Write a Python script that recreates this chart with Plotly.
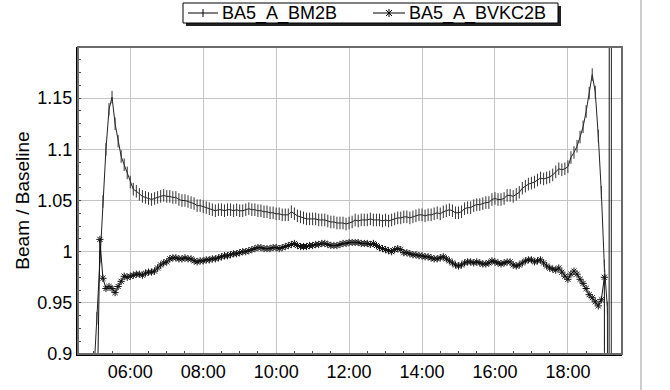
import plotly.graph_objects as go
import pandas as pd

start_time = "2023-01-01 05:00"
step = "5min"

bm2b = [
    0.88, 0.935, 0.995, 1.049, 1.100, 1.139, 1.151, 1.125, 1.108, 1.093,
    1.085, 1.077, 1.068, 1.061, 1.059, 1.056, 1.054, 1.053, 1.052, 1.051,
    1.052, 1.053, 1.054, 1.055, 1.054, 1.054, 1.053, 1.053, 1.051, 1.050,
    1.050, 1.049, 1.048, 1.047, 1.045, 1.045, 1.044, 1.043, 1.042, 1.041,
    1.040, 1.041, 1.041, 1.040, 1.041, 1.041, 1.040, 1.041, 1.040, 1.040,
    1.041, 1.042, 1.041, 1.041, 1.040, 1.040, 1.039, 1.039, 1.038, 1.038,
    1.037, 1.037, 1.036, 1.036, 1.036, 1.039, 1.037, 1.035, 1.034, 1.033,
    1.032, 1.032, 1.032, 1.032, 1.031, 1.031, 1.031, 1.030, 1.029, 1.029,
    1.028, 1.028, 1.028, 1.027, 1.028, 1.029, 1.031, 1.030, 1.031, 1.031,
    1.031, 1.032, 1.031, 1.031, 1.031, 1.030, 1.031, 1.030, 1.031, 1.032,
    1.033, 1.033, 1.034, 1.034, 1.033, 1.034, 1.035, 1.036, 1.036, 1.035,
    1.036, 1.036, 1.037, 1.038, 1.037, 1.039, 1.040, 1.041, 1.040, 1.038,
    1.038, 1.039, 1.042, 1.043, 1.043, 1.045, 1.046, 1.046, 1.047, 1.048,
    1.048, 1.051, 1.052, 1.051, 1.051, 1.052, 1.055, 1.055, 1.054, 1.056,
    1.058, 1.062, 1.064, 1.066, 1.067, 1.068, 1.070, 1.072, 1.071, 1.072,
    1.073, 1.075, 1.078, 1.081, 1.080, 1.081, 1.083, 1.092, 1.097, 1.103,
    1.112, 1.122, 1.137, 1.155, 1.173, 1.156, 1.113, 1.058, 0.986, 0.945,
    -1.0, 6.0,
]

bvkc2b = [
    None, 0.83, 1.012, 0.974, 0.964, 0.966, 0.964, 0.960, 0.966, 0.971,
    0.976, 0.975, 0.976, 0.977, 0.978, 0.978, 0.977, 0.979, 0.980, 0.980,
    0.981, 0.984, 0.987, 0.989, 0.990, 0.993, 0.994, 0.994, 0.993, 0.993,
    0.994, 0.993, 0.993, 0.991, 0.990, 0.991, 0.991, 0.992, 0.992, 0.993,
    0.993, 0.994, 0.995, 0.996, 0.996, 0.997, 0.998, 0.998, 0.999, 1.000,
    1.000, 1.001, 1.002, 1.003, 1.004, 1.004, 1.003, 1.003, 1.003, 1.004,
    1.004, 1.003, 1.004, 1.005, 1.006, 1.007, 1.008, 1.006, 1.005, 1.005,
    1.005, 1.006, 1.006, 1.007, 1.007, 1.008, 1.008, 1.007, 1.006, 1.006,
    1.006, 1.007, 1.008, 1.008, 1.009, 1.009, 1.009, 1.009, 1.008, 1.008,
    1.008, 1.007, 1.008, 1.006, 1.004, 1.003, 1.002, 1.001, 1.000, 1.002,
    1.003, 1.002, 0.999, 0.999, 0.998, 0.997, 0.997, 0.996, 0.996, 0.995,
    0.995, 0.994, 0.993, 0.993, 0.994, 0.995, 0.993, 0.991, 0.989, 0.987,
    0.986, 0.987, 0.989, 0.990, 0.990, 0.989, 0.990, 0.989, 0.988, 0.988,
    0.989, 0.991, 0.990, 0.989, 0.988, 0.989, 0.990, 0.990, 0.987, 0.986,
    0.987, 0.989, 0.991, 0.992, 0.992, 0.990, 0.991, 0.992, 0.989, 0.986,
    0.984, 0.983, 0.982, 0.984, 0.980, 0.976, 0.973, 0.978, 0.981, 0.978,
    0.973, 0.969, 0.964, 0.958, 0.955, 0.951, 0.947, 0.953, 0.975, -3.0,
    4.0,
]

series_names = ["BA5_A_BM2B", "BA5_A_BVKC2B"]
ytick_vals = [0.9, 0.95, 1.0, 1.05, 1.1, 1.15]
ytick_text = ["0.9", "0.95", "1", "1.05", "1.1", "1.15"]

t_bm = pd.date_range(start_time, periods=len(bm2b), freq=step)
t_bv = pd.date_range(start_time, periods=len(bvkc2b), freq=step)

FONT = "Liberation Sans, Arial, sans-serif"

# plot area in page pixels
PL, PR, PT, PB = 78.0, 622.0, 47.0, 354.0


def px(X):
    return (X - PL) / (PR - PL)


def py(Y):
    return (PB - Y) / (PB - PT)


fig = go.Figure()
fig.add_trace(go.Scatter(
    x=t_bm, y=bm2b, name=series_names[0], mode="lines+markers",
    line=dict(color="#222222", width=1),
    marker=dict(symbol="line-ns", size=9, line=dict(color="#333333", width=1)),
))
fig.add_trace(go.Scatter(
    x=t_bv, y=bvkc2b, name=series_names[1], mode="lines+markers",
    line=dict(color="#111111", width=1),
    marker=dict(symbol="asterisk-open", size=6, line=dict(color="#111111", width=1)),
))


def seg(x0, y0, x1, y1, color="black", w=1):
    return dict(type="line", xref="paper", yref="paper",
                x0=px(x0), y0=py(y0), x1=px(x1), y1=py(y1),
                line=dict(color=color, width=w), layer="above")


shapes = [
    dict(type="rect", xref="paper", yref="paper", x0=0, x1=1, y0=0, y1=1,
         line=dict(color="#6a6a6a", width=2), layer="above"),
    seg(641, 0, 641, 390, color="#9a9a9a"),
    # legend shadow + box
    dict(type="rect", xref="paper", yref="paper", x0=px(186), x1=px(561), y0=py(26), y1=py(6),
         fillcolor="#222222", line=dict(width=0), layer="above"),
    dict(type="rect", xref="paper", yref="paper", x0=px(183), x1=px(558), y0=py(23), y1=py(3),
         fillcolor="white", line=dict(color="black", width=1), layer="above"),
    # legend item 1: line with +
    seg(188, 13, 218, 13),
    seg(203, 9, 203, 17),
    # legend item 2: line with *
    seg(373, 13, 405, 13),
    seg(389, 9, 389, 17),
    seg(386, 10, 392, 16),
    seg(386, 16, 392, 10),
]

annotations = [
    dict(text=series_names[0], xref="paper", yref="paper", x=px(220), y=py(13.5),
         xanchor="left", yanchor="middle", showarrow=False,
         font=dict(family=FONT, size=18, color="black")),
    dict(text=series_names[1], xref="paper", yref="paper", x=px(407), y=py(13.5),
         xanchor="left", yanchor="middle", showarrow=False,
         font=dict(family=FONT, size=18, color="black")),
]

fig.update_layout(
    width=670, height=390,
    margin=dict(l=78, r=48, t=47, b=36, autoexpand=False),
    paper_bgcolor="white", plot_bgcolor="white",
    font=dict(family=FONT, size=17, color="black"),
    showlegend=False,
    hovermode=False,
    xaxis=dict(
        type="date",
        range=["2023-01-01 04:34", "2023-01-01 19:29"],
        tick0="2023-01-01 06:00", dtick=7200000, tickformat="%H:%M",
        showgrid=True, gridcolor="#c4c4c4", gridwidth=1,
        ticks="", showline=True, linecolor="black", linewidth=2,
        tickfont=dict(size=18), zeroline=False, automargin=False,
        minor=dict(dtick=1800000, ticks="inside", ticklen=3, tickcolor="#444", showgrid=False),
    ),
    yaxis=dict(
        range=[0.9, 1.2],
        tickvals=ytick_vals, ticktext=ytick_text,
        showgrid=True, gridcolor="#c4c4c4", gridwidth=1,
        ticks="", showline=True, linecolor="black", linewidth=2,
        tickfont=dict(size=18), zeroline=False, automargin=False,
        title=dict(text="Beam / Baseline", font=dict(size=19), standoff=3),
        minor=dict(dtick=0.0125, tick0=0.9, ticks="inside", ticklen=3, tickcolor="#444", showgrid=False),
    ),
    shapes=shapes,
    annotations=annotations,
)

fig.write_html(
    "out.html",
    config={"displayModeBar": False},
    post_script="document.body.style.margin='0';document.body.style.overflow='hidden';",
)
